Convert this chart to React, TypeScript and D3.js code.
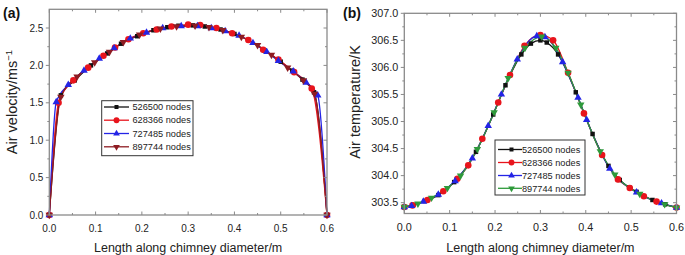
import React from "react";
import * as d3 from "d3";

// ---------- data (a) velocity ----------
const seriesNames = ["526500 nodes", "628366 nodes", "727485 nodes", "897744 nodes"];

const velBlackX = [0, 0.025, 0.055, 0.09, 0.125, 0.155, 0.19, 0.225, 0.255, 0.279, 0.31, 0.336, 0.37, 0.4, 0.43, 0.465, 0.5, 0.525, 0.547, 0.572, 0.6];
const velBlackY = [0, 1.6, 1.8, 2.0, 2.16, 2.29, 2.39, 2.47, 2.51, 2.53, 2.535, 2.52, 2.48, 2.42, 2.34, 2.2, 2.05, 1.93, 1.81, 1.64, 0];
const velRedX = [0, 0.02, 0.052, 0.084, 0.117, 0.142, 0.171, 0.203, 0.232, 0.264, 0.3, 0.326, 0.361, 0.395, 0.43, 0.462, 0.495, 0.529, 0.567, 0.6];
const velRedY = [0, 1.5, 1.8, 1.97, 2.13, 2.24, 2.35, 2.43, 2.48, 2.52, 2.545, 2.54, 2.5, 2.43, 2.34, 2.21, 2.08, 1.91, 1.69, 0];
const velBlueX = [0, 0.015, 0.041, 0.075, 0.108, 0.14, 0.175, 0.21, 0.245, 0.285, 0.32, 0.35, 0.38, 0.41, 0.44, 0.47, 0.495, 0.527, 0.555, 0.58, 0.6];
const velBlueY = [0, 1.51, 1.74, 1.93, 2.09, 2.23, 2.36, 2.44, 2.5, 2.525, 2.525, 2.5, 2.46, 2.4, 2.3, 2.18, 2.06, 1.92, 1.77, 1.6, 0];
const velDarkX = [0, 0.025, 0.06, 0.098, 0.13, 0.16, 0.195, 0.24, 0.275, 0.315, 0.345, 0.375, 0.415, 0.45, 0.48, 0.515, 0.549, 0.573, 0.6];
const velDarkY = [0, 1.58, 1.85, 2.04, 2.18, 2.31, 2.41, 2.49, 2.52, 2.53, 2.51, 2.47, 2.38, 2.27, 2.14, 1.97, 1.8, 1.62, 0];

// ---------- data (b) temperature ----------
const tBlackX = [0, 0.02, 0.045, 0.075, 0.11, 0.158, 0.196, 0.223, 0.258, 0.279, 0.3, 0.314, 0.339, 0.378, 0.415, 0.45, 0.475, 0.496, 0.512, 0.547, 0.575, 0.6];
const tBlackY = [303.42, 303.46, 303.53, 303.64, 303.88, 304.44, 305.13, 305.67, 306.24, 306.44, 306.5, 306.46, 306.24, 305.54, 304.77, 304.18, 303.92, 303.78, 303.7, 303.55, 303.47, 303.41];
const tRedX = [0, 0.018, 0.051, 0.086, 0.117, 0.141, 0.172, 0.207, 0.233, 0.265, 0.3, 0.328, 0.361, 0.396, 0.436, 0.471, 0.497, 0.528, 0.556, 0.6];
const tRedY = [303.42, 303.45, 303.55, 303.71, 303.94, 304.19, 304.68, 305.35, 305.86, 306.4, 306.6, 306.5, 305.9, 305.15, 304.38, 303.93, 303.77, 303.62, 303.52, 303.41];
const tBlueX = [0, 0.016, 0.042, 0.075, 0.112, 0.15, 0.185, 0.214, 0.249, 0.292, 0.31, 0.349, 0.383, 0.402, 0.453, 0.512, 0.567, 0.6];
const tBlueY = [303.42, 303.44, 303.52, 303.65, 303.9, 304.32, 304.92, 305.5, 306.15, 306.58, 306.56, 306.1, 305.44, 305.03, 304.13, 303.69, 303.49, 303.41];
const tGreenX = [0, 0.03, 0.06, 0.095, 0.124, 0.161, 0.198, 0.229, 0.266, 0.303, 0.334, 0.361, 0.389, 0.432, 0.464, 0.519, 0.574, 0.6];
const tGreenY = [303.42, 303.48, 303.59, 303.77, 304.0, 304.49, 305.17, 305.8, 306.36, 306.57, 306.36, 305.9, 305.31, 304.45, 304.02, 303.66, 303.47, 303.41];

const xTicks = [0, 0.1, 0.2, 0.3, 0.4, 0.5, 0.6];
const xMinor = [0.05, 0.15, 0.25, 0.35, 0.45, 0.55];
const velTicks = [0, 0.5, 1.0, 1.5, 2.0, 2.5];
const velMinor = [0.25, 0.75, 1.25, 1.75, 2.25];
const tempTicks = [303.5, 304.0, 304.5, 305.0, 305.5, 306.0, 306.5, 307.0];
const tempMinor = [303.75, 304.25, 304.75, 305.25, 305.75, 306.25, 306.75];

const FONT = "'Liberation Sans', Arial, Helvetica, sans-serif";
const FRAME = "#8a8a8a";

type Ser = { xs: number[]; ys: number[]; color: string; marker: string };

function markerPath(kind: string, size: number) {
  const t =
    kind === "square" ? d3.symbolSquare :
    kind === "circle" ? d3.symbolCircle : d3.symbolTriangle;
  return d3.symbol().type(t).size(size)() as string;
}

function Marker({ kind, x, y, color, scale = 1 }: { kind: string; x: number; y: number; color: string; scale?: number }) {
  const sizes: Record<string, number> = { square: 20, circle: 34, tri: 24, itri: 24 };
  const d = markerPath(kind, sizes[kind] * scale);
  const rot = kind === "itri" ? " rotate(180)" : "";
  return <path d={d} transform={`translate(${x},${y})${rot}`} fill={color} stroke="none" />;
}

function Panel(props: {
  x0: number; x1: number; yTop: number; yBot: number; domain: [number, number];
  yTicks: number[]; yMinor: number[]; fmt: (v: number) => string; series: Ser[];
  tickFont: number; yTitle: React.ReactNode; yTitleX: number; yTitleY: number; label: string; labelX: number;
  legend: { x: number; y: number; w: number; h: number; rows: number[]; lx0: number; lx1: number; mx: number; tx: number };
}) {
  const { x0, x1, yTop, yBot, domain, series, legend } = props;
  const xs = d3.scaleLinear().domain([0, 0.6]).range([x0, x1]);
  const ys = d3.scaleLinear().domain(domain).range([yBot, yTop]);
  const line = d3.line<[number, number]>().x((d) => xs(d[0])).y((d) => ys(d[1])).curve(d3.curveMonotoneX);
  return (
    <g>
      {series.map((s, i) => {
        const pts = s.xs.map((x, j) => [x, s.ys[j]] as [number, number]);
        return (
          <g key={i}>
            <path d={line(pts) as string} fill="none" stroke={s.color} strokeWidth={1.3} />
          </g>
        );
      })}
      {series.map((s, i) => (
        <g key={"m" + i}>
          {s.xs.map((x, j) => (
            <Marker key={j} kind={s.marker} x={xs(x)} y={ys(s.ys[j])} color={s.color} />
          ))}
        </g>
      ))}
      {/* frame */}
      <rect x={x0} y={yTop} width={x1 - x0} height={yBot - yTop} fill="none" stroke={FRAME} strokeWidth={1.3} />
      {/* x ticks */}
      {xTicks.map((t) => (
        <g key={"xt" + t}>
          <line x1={xs(t)} x2={xs(t)} y1={yBot} y2={yBot - 3.5} stroke={FRAME} strokeWidth={1} />
          <line x1={xs(t)} x2={xs(t)} y1={yTop} y2={yTop + 3.5} stroke={FRAME} strokeWidth={1} />
          <text x={xs(t)} y={yBot + 17} textAnchor="middle" fontSize={props.tickFont} fontFamily={FONT} fill="#222">
            {t.toFixed(1)}
          </text>
        </g>
      ))}
      {xMinor.map((t) => (
        <g key={"xm" + t}>
          <line x1={xs(t)} x2={xs(t)} y1={yBot} y2={yBot - 2} stroke={FRAME} strokeWidth={1} />
          <line x1={xs(t)} x2={xs(t)} y1={yTop} y2={yTop + 2} stroke={FRAME} strokeWidth={1} />
        </g>
      ))}
      {props.yTicks.map((t) => (
        <g key={"yt" + t}>
          <line x1={x0 - 3.5} x2={x0} y1={ys(t)} y2={ys(t)} stroke={FRAME} strokeWidth={1} />
          <line x1={x1} x2={x1 - 3.5} y1={ys(t)} y2={ys(t)} stroke={FRAME} strokeWidth={1} />
          <text x={x0 - 6} y={ys(t)} dy="0.35em" textAnchor="end" fontSize={props.tickFont} fontFamily={FONT} fill="#222">
            {props.fmt(t)}
          </text>
        </g>
      ))}
      {props.yMinor.map((t) => (
        <g key={"ym" + t}>
          <line x1={x0 - 2} x2={x0} y1={ys(t)} y2={ys(t)} stroke={FRAME} strokeWidth={1} />
          <line x1={x1} x2={x1 - 2} y1={ys(t)} y2={ys(t)} stroke={FRAME} strokeWidth={1} />
        </g>
      ))}
      <text x={(x0 + x1) / 2} y={252} textAnchor="middle" fontSize={12.5} fontFamily={FONT} fill="#222">
        Length along chimney diameter/m
      </text>
      <text transform={`translate(${props.yTitleX},${props.yTitleY}) rotate(-90)`} textAnchor="middle" fontSize={14.5} fontFamily={FONT} fill="#222">
        {props.yTitle}
      </text>
      <text x={props.labelX} y={18} fontSize={14} fontWeight="bold" fontFamily={FONT} fill="#111">
        {props.label}
      </text>
      {/* legend */}
      <rect x={legend.x} y={legend.y} width={legend.w} height={legend.h} fill="white" stroke="#333" strokeWidth={1} />
      {series.map((s, i) => (
        <g key={"lg" + i}>
          <line x1={legend.lx0} x2={legend.lx1} y1={legend.rows[i]} y2={legend.rows[i]} stroke={s.color} strokeWidth={1.3} />
          <Marker kind={s.marker} x={legend.mx} y={legend.rows[i]} color={s.color} scale={0.8} />
          <text x={legend.tx} y={legend.rows[i]} dy="0.35em" fontSize={9.2} fontFamily={FONT} fill="#222">
            {seriesNames[i]}
          </text>
        </g>
      ))}
    </g>
  );
}

export default function App() {
  const velSeries: Ser[] = [
    { xs: velBlackX, ys: velBlackY, color: "#111111", marker: "square" },
    { xs: velRedX, ys: velRedY, color: "#e8141c", marker: "circle" },
    { xs: velBlueX, ys: velBlueY, color: "#2424e6", marker: "tri" },
    { xs: velDarkX, ys: velDarkY, color: "#8e1c22", marker: "itri" },
  ];
  const tempSeries: Ser[] = [
    { xs: tBlackX, ys: tBlackY, color: "#111111", marker: "square" },
    { xs: tRedX, ys: tRedY, color: "#e8141c", marker: "circle" },
    { xs: tBlueX, ys: tBlueY, color: "#2424e6", marker: "tri" },
    { xs: tGreenX, ys: tGreenY, color: "#2e9a3a", marker: "itri" },
  ];
  return (
    <svg width={685} height={255} style={{ position: "absolute", left: 0, top: 0, background: "white" }}>
      <Panel
        x0={49.3} x1={327} yTop={9.3} yBot={215} domain={[0, 2.75]}
        yTicks={velTicks} yMinor={velMinor} fmt={(v) => v.toFixed(1)} series={velSeries}
        tickFont={10}
        yTitle={<>Air velocity/ms<tspan dy={-5} fontSize={9.5}>−1</tspan></>}
        yTitleX={17} yTitleY={102} label="(a)" labelX={3}
        legend={{ x: 101.7, y: 100.7, w: 91.3, h: 55, rows: [107, 120.2, 133.5, 146.8], lx0: 104, lx1: 129, mx: 116.5, tx: 132.5 }}
      />
      <Panel
        x0={404.3} x1={676.5} yTop={13.3} yBot={213.5} domain={[303.3, 307.0]}
        yTicks={tempTicks} yMinor={tempMinor} fmt={(v) => v.toFixed(1)} series={tempSeries}
        tickFont={10.8}
        yTitle={<>Air temperature/K</>}
        yTitleX={360} yTitleY={102} label="(b)" labelX={343}
        legend={{ x: 495, y: 140, w: 90, h: 55, rows: [149.5, 162.5, 175.5, 188.3], lx0: 498, lx1: 522, mx: 511.5, tx: 522 }}
      />
    </svg>
  );
}
